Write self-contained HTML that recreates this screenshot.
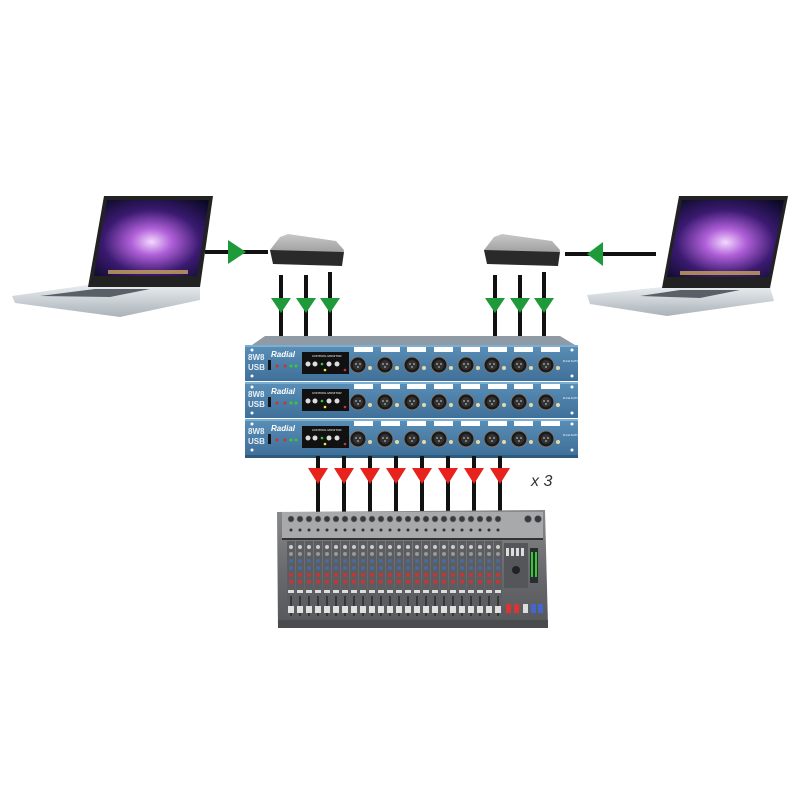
<!DOCTYPE html>
<html><head><meta charset="utf-8"><style>
html,body{margin:0;padding:0;background:#fff;}
svg{display:block;}
text{font-family:"Liberation Sans",sans-serif;}
</style></head><body>
<svg width="800" height="800" viewBox="0 0 800 800" xmlns="http://www.w3.org/2000/svg">
<defs>
<radialGradient id="scr" cx="0.5" cy="0.55" r="0.7">
<stop offset="0" stop-color="#f4d8ff"/><stop offset="0.25" stop-color="#b060d8"/><stop offset="0.6" stop-color="#3a1a70"/><stop offset="1" stop-color="#0a0a25"/></radialGradient>
<linearGradient id="base" x1="0" y1="0" x2="0" y2="1"><stop offset="0" stop-color="#e8ecef"/><stop offset="1" stop-color="#aab2b8"/></linearGradient>
<linearGradient id="box" x1="0" y1="0" x2="0" y2="1"><stop offset="0" stop-color="#c8c8c8"/><stop offset="1" stop-color="#8a8a8a"/></linearGradient>
<linearGradient id="rack" x1="0" y1="0" x2="0" y2="1"><stop offset="0" stop-color="#5a8fb8"/><stop offset="1" stop-color="#3f7099"/></linearGradient>
<linearGradient id="mix" x1="0" y1="0" x2="0" y2="1"><stop offset="0" stop-color="#8a8a8a"/><stop offset="0.5" stop-color="#6a6b6f"/><stop offset="1" stop-color="#55565a"/></linearGradient>
<g id="xlr"><circle r="8" fill="#1a1a1a" stroke="#777" stroke-width="1"/><circle r="5" fill="#333"/><circle cx="-2" cy="-1" r="1" fill="#999"/><circle cx="2" cy="-1" r="1" fill="#999"/><circle cx="0" cy="2" r="1" fill="#999"/></g>
<g id="strip">
<rect x="0" y="0" width="8" height="77" fill="#5c5d61"/>
<circle cx="4" cy="6" r="2" fill="#ccc"/>
<circle cx="4" cy="13" r="2" fill="#999"/>
<circle cx="4" cy="20" r="2" fill="#4a6aa0"/>
<circle cx="4" cy="27" r="2" fill="#4a6aa0"/>
<circle cx="4" cy="34" r="2" fill="#c33"/>
<circle cx="4" cy="41" r="2" fill="#c33"/>
<rect x="1" y="49" width="6" height="3" fill="#ddd"/>
<rect x="3.5" y="55" width="1" height="20" fill="#111"/>
<rect x="1" y="65" width="6" height="7" fill="#e0e0e0"/>
</g>
</defs>

<!-- left laptop -->
<polygon points="12,296 88,285 200,285 200,300 120,317 15,303" fill="url(#base)"/>
<polygon points="40,296 95,289 150,289 110,297" fill="#5a6068"/>
<polygon points="104,196 213,196 200,287 88,287" fill="#222"/>
<polygon points="107,200 209,200 197,276 94,276" fill="url(#scr)"/>
<rect x="108" y="270" width="80" height="4" fill="#c9a55a" opacity="0.8"/>

<!-- right laptop -->
<polygon points="587,295 662,287 770,287 774,301 667,316 590,304" fill="url(#base)"/>
<polygon points="640,296 680,290 740,290 700,298" fill="#5a6068"/>
<polygon points="679,196 788,196 770,288 662,288" fill="#222"/>
<polygon points="682,200 784,200 769,277 667,277" fill="url(#scr)"/>
<rect x="680" y="271" width="80" height="4" fill="#c9a55a" opacity="0.8"/>

<!-- connecting lines -->
<g stroke="#111" stroke-width="4">
<line x1="205" y1="252" x2="268" y2="252"/>
<line x1="565" y1="254" x2="656" y2="254"/>
<line x1="281" y1="275" x2="281" y2="345"/><line x1="306" y1="275" x2="306" y2="345"/><line x1="330" y1="272" x2="330" y2="345"/>
<line x1="495" y1="275" x2="495" y2="345"/><line x1="520" y1="275" x2="520" y2="345"/><line x1="544" y1="272" x2="544" y2="345"/>
</g>
<g fill="#1e9a3a">
<polygon points="228,240 228,264 246,252"/>
<polygon points="603,242 603,266 587,254"/>
<polygon points="271,298 291,298 281,313"/><polygon points="296,298 316,298 306,313"/><polygon points="320,298 340,298 330,313"/>
<polygon points="485,298 505,298 495,313"/><polygon points="510,298 530,298 520,313"/><polygon points="534,298 554,298 544,313"/>
</g>

<!-- interfaces -->
<polygon points="270,250 280,237 288,234 336,241 344,250 342,262 273,262" fill="url(#box)"/>
<polygon points="270,250 344,252 342,266 273,264" fill="#2a2a2a"/>
<polygon points="484,250 494,237 502,234 552,241 560,250 558,262 487,262" fill="url(#box)"/>
<polygon points="484,250 560,252 558,266 487,264" fill="#2a2a2a"/>

<!-- rack -->
<polygon points="252,345 265,336 560,336 575,345" fill="#8f9aa4"/>
<g id="unit">
<rect x="245" y="345" width="333" height="36" fill="url(#rack)"/>
<rect x="245" y="345" width="333" height="2" fill="#7aaed3"/>
<text x="248" y="360" font-size="8" font-weight="bold" fill="#e8f0f8">8W8</text>
<text x="248" y="370" font-size="8" font-weight="bold" fill="#e8f0f8">USB</text>
<text x="271" y="357" font-size="8" font-style="italic" font-weight="bold" fill="#fff">Radial</text>
<rect x="268" y="360" width="3" height="10" fill="#111"/>
<circle cx="277" cy="366" r="1.5" fill="#c33"/><circle cx="285" cy="366" r="1.5" fill="#c33"/><circle cx="291" cy="366" r="1.5" fill="#3c3"/><circle cx="296" cy="366" r="1.5" fill="#3c3"/>
<rect x="302" y="352" width="47" height="22" fill="#111"/>
<text x="312" y="357" font-size="3" fill="#fff">CONTROL MONITOR</text>
<circle cx="308" cy="364" r="2.5" fill="#ddd"/><circle cx="315" cy="364" r="2.5" fill="#ddd"/><circle cx="329" cy="364" r="2.5" fill="#ddd"/><circle cx="337" cy="364" r="2.5" fill="#ddd"/>
<circle cx="322" cy="364" r="1.3" fill="#3c3"/><circle cx="325" cy="370" r="1.3" fill="#ee4"/><circle cx="345" cy="370" r="1.3" fill="#c33"/>
<g fill="#fff"><rect x="354" y="347" width="19" height="5"/><rect x="381" y="347" width="19" height="5"/><rect x="407" y="347" width="19" height="5"/><rect x="434" y="347" width="19" height="5"/><rect x="461" y="347" width="19" height="5"/><rect x="488" y="347" width="19" height="5"/><rect x="514" y="347" width="19" height="5"/><rect x="541" y="347" width="19" height="5"/></g>
<use href="#xlr" x="358" y="365"/><use href="#xlr" x="385" y="365"/><use href="#xlr" x="412" y="365"/><use href="#xlr" x="439" y="365"/><use href="#xlr" x="466" y="365"/><use href="#xlr" x="492" y="365"/><use href="#xlr" x="519" y="365"/><use href="#xlr" x="546" y="365"/>
<g fill="#e6d9a8"><circle cx="370" cy="368" r="2"/><circle cx="397" cy="368" r="2"/><circle cx="424" cy="368" r="2"/><circle cx="451" cy="368" r="2"/><circle cx="478" cy="368" r="2"/><circle cx="504" cy="368" r="2"/><circle cx="531" cy="368" r="2"/><circle cx="558" cy="368" r="2"/></g>
<text x="563" y="362" font-size="3" fill="#fff">8-CH AUTO</text>
<circle cx="252" cy="350" r="1.5" fill="#fff"/><circle cx="252" cy="376" r="1.5" fill="#fff"/><circle cx="572" cy="350" r="1.5" fill="#fff"/><circle cx="572" cy="376" r="1.5" fill="#fff"/>
</g>
<use href="#unit" y="37"/>
<use href="#unit" y="74"/>
<rect x="245" y="455" width="333" height="3" fill="#2e5a7e"/>

<!-- red arrows -->
<g stroke="#111" stroke-width="4">
<line x1="318" y1="456" x2="318" y2="515"/><line x1="344" y1="456" x2="344" y2="515"/><line x1="370" y1="456" x2="370" y2="515"/><line x1="396" y1="456" x2="396" y2="515"/><line x1="422" y1="456" x2="422" y2="515"/><line x1="448" y1="456" x2="448" y2="515"/><line x1="474" y1="456" x2="474" y2="515"/><line x1="500" y1="456" x2="500" y2="515"/>
</g>
<g fill="#e8231e">
<polygon points="308,468 328,468 318,484"/><polygon points="334,468 354,468 344,484"/><polygon points="360,468 380,468 370,484"/><polygon points="386,468 406,468 396,484"/><polygon points="412,468 432,468 422,484"/><polygon points="438,468 458,468 448,484"/><polygon points="464,468 484,468 474,484"/><polygon points="490,468 510,468 500,484"/>
</g>
<text x="531" y="486" font-size="16" font-style="italic" fill="#333">x 3</text>

<!-- mixer -->
<polygon points="277,512 545,510 548,626 278,628" fill="url(#mix)"/>
<rect x="282" y="512" width="261" height="26" fill="#a8a9ab"/>
<g fill="#3a3a3e" stroke="#777" stroke-width="0.6">
<circle cx="291" cy="519" r="3"/><circle cx="300" cy="519" r="3"/><circle cx="309" cy="519" r="3"/><circle cx="318" cy="519" r="3"/><circle cx="327" cy="519" r="3"/><circle cx="336" cy="519" r="3"/><circle cx="345" cy="519" r="3"/><circle cx="354" cy="519" r="3"/><circle cx="363" cy="519" r="3"/><circle cx="372" cy="519" r="3"/><circle cx="381" cy="519" r="3"/><circle cx="390" cy="519" r="3"/><circle cx="399" cy="519" r="3"/><circle cx="408" cy="519" r="3"/><circle cx="417" cy="519" r="3"/><circle cx="426" cy="519" r="3"/><circle cx="435" cy="519" r="3"/><circle cx="444" cy="519" r="3"/><circle cx="453" cy="519" r="3"/><circle cx="462" cy="519" r="3"/><circle cx="471" cy="519" r="3"/><circle cx="480" cy="519" r="3"/><circle cx="489" cy="519" r="3"/><circle cx="498" cy="519" r="3"/><circle cx="528" cy="519" r="3.5"/><circle cx="538" cy="519" r="3.5"/>
</g>
<g fill="#333"><circle cx="291" cy="530" r="1.5"/><circle cx="300" cy="530" r="1.5"/><circle cx="309" cy="530" r="1.5"/><circle cx="318" cy="530" r="1.5"/><circle cx="327" cy="530" r="1.5"/><circle cx="336" cy="530" r="1.5"/><circle cx="345" cy="530" r="1.5"/><circle cx="354" cy="530" r="1.5"/><circle cx="363" cy="530" r="1.5"/><circle cx="372" cy="530" r="1.5"/><circle cx="381" cy="530" r="1.5"/><circle cx="390" cy="530" r="1.5"/><circle cx="399" cy="530" r="1.5"/><circle cx="408" cy="530" r="1.5"/><circle cx="417" cy="530" r="1.5"/><circle cx="426" cy="530" r="1.5"/><circle cx="435" cy="530" r="1.5"/><circle cx="444" cy="530" r="1.5"/><circle cx="453" cy="530" r="1.5"/><circle cx="462" cy="530" r="1.5"/><circle cx="471" cy="530" r="1.5"/><circle cx="480" cy="530" r="1.5"/><circle cx="489" cy="530" r="1.5"/><circle cx="498" cy="530" r="1.5"/></g>
<rect x="282" y="538" width="261" height="2" fill="#333"/>
<use href="#strip" x="287" y="541"/><use href="#strip" x="296" y="541"/><use href="#strip" x="305" y="541"/><use href="#strip" x="314" y="541"/><use href="#strip" x="323" y="541"/><use href="#strip" x="332" y="541"/><use href="#strip" x="341" y="541"/><use href="#strip" x="350" y="541"/><use href="#strip" x="359" y="541"/><use href="#strip" x="368" y="541"/><use href="#strip" x="377" y="541"/><use href="#strip" x="386" y="541"/><use href="#strip" x="395" y="541"/><use href="#strip" x="404" y="541"/><use href="#strip" x="413" y="541"/><use href="#strip" x="422" y="541"/><use href="#strip" x="431" y="541"/><use href="#strip" x="440" y="541"/><use href="#strip" x="449" y="541"/><use href="#strip" x="458" y="541"/><use href="#strip" x="467" y="541"/><use href="#strip" x="476" y="541"/><use href="#strip" x="485" y="541"/><use href="#strip" x="494" y="541"/>
<rect x="504" y="543" width="24" height="45" fill="#55565a"/>
<g fill="#ddd"><rect x="506" y="548" width="3" height="8"/><rect x="511" y="548" width="3" height="8"/><rect x="516" y="548" width="3" height="8"/><rect x="521" y="548" width="3" height="8"/></g>
<circle cx="516" cy="570" r="4" fill="#222"/>
<rect x="530" y="548" width="8" height="35" fill="#2b2c30"/>
<rect x="531" y="552" width="2" height="25" fill="#3c3"/><rect x="535" y="552" width="2" height="25" fill="#3c3"/>
<rect x="506" y="604" width="5" height="9" fill="#d33"/><rect x="514" y="604" width="5" height="9" fill="#d33"/>
<rect x="523" y="604" width="5" height="9" fill="#ddd"/>
<rect x="531" y="604" width="5" height="9" fill="#4466cc"/><rect x="538" y="604" width="5" height="9" fill="#4466cc"/>
<rect x="278" y="620" width="270" height="8" fill="#4a4b4f"/>
</svg>
</body></html>
